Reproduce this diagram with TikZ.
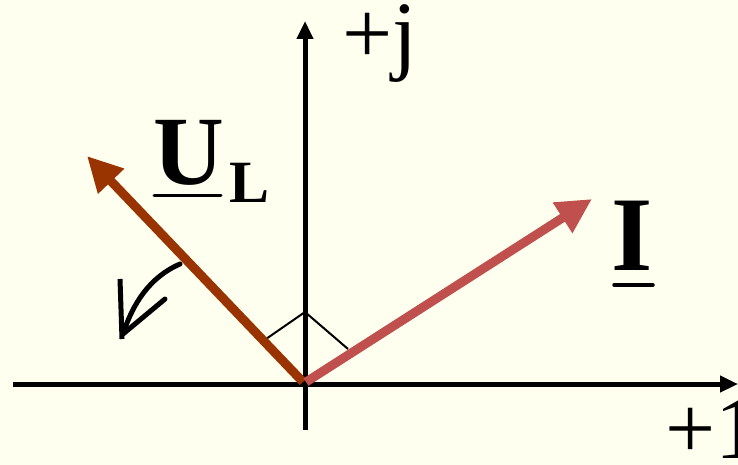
\documentclass[tikz,border=0pt]{standalone}
\usepackage{fontspec}
\setmainfont{Liberation Serif}
\usetikzlibrary{arrows.meta}
\definecolor{bgcol}{RGB}{255,255,240}
\definecolor{ulcol}{RGB}{153,51,0}
\definecolor{icol}{RGB}{192,80,77}
\tikzset{
  axis/.style={line width=5pt, -{Triangle[length=18pt,width=16pt]}},
  phasor/.style={line width=9pt, -{Triangle[length=35pt,width=34pt]}},
  lbl/.style={inner sep=0pt, anchor=base west},
  marker/.style={line width=2pt},
  turn/.style={line width=5pt, line cap=round},
  uline/.style={line width=3.5pt, line cap=round}
}
\begin{document}
\begin{tikzpicture}[x=1pt,y=-1pt]
\fill[bgcol] (0,0) rectangle (738,465);
\useasboundingbox (0,0) rectangle (738,465);
% axes
\coordinate (O) at (305,384);
\coordinate (xl) at (13,384);
\coordinate (xr) at (738,384);
\coordinate (yb) at (305,430);
\coordinate (yt) at (305,21);
\draw[axis] (xl) -- (xr);
\draw[axis] (yb) -- (yt);
\node[lbl, font=\fontsize{89}{89}\selectfont] (pj) at (342,64) {+j};
\node[lbl, font=\fontsize{89}{89}\selectfont] (p1) at (665,458) {+1};
% right angle marker
\coordinate (m1) at (266,339);
\coordinate (m2) at (305,312);
\coordinate (m3) at (348,349);
\draw[marker] (m1) -- (m2) -- (m3);
% phasors
\coordinate (o1) at (303,382);
\coordinate (o2) at (306,382);
\coordinate (ult) at (87,156);
\coordinate (it) at (592,199);
\draw[phasor, ulcol] (o1) -- (ult);
\draw[phasor, icol] (o2) -- (it);
% labels
\node[lbl, font=\fontsize{98}{98}\selectfont\bfseries] (U) at (153.5,184) {U};
\node[lbl, font=\fontsize{60}{60}\selectfont\bfseries] (L) at (229,202) {L};
\draw[uline, line width=3pt] (154,195) -- (221,195);
\node[lbl, font=\fontsize{106}{106}\selectfont\bfseries] (I) at (611,270) {I};
\draw[uline] (614,285) -- (653,285);
% rotation arrow
\coordinate (c0) at (180,264);
\coordinate (ct) at (123,334);
\coordinate (a1) at (120,279);
\coordinate (a2) at (165,299);
\draw[turn] (c0) .. controls (150,277) and (133,303) .. (ct);
\draw[turn, line cap=butt] (a1) -- (122,339);
\draw[turn] (a2) -- (ct);
\end{tikzpicture}
\end{document}
